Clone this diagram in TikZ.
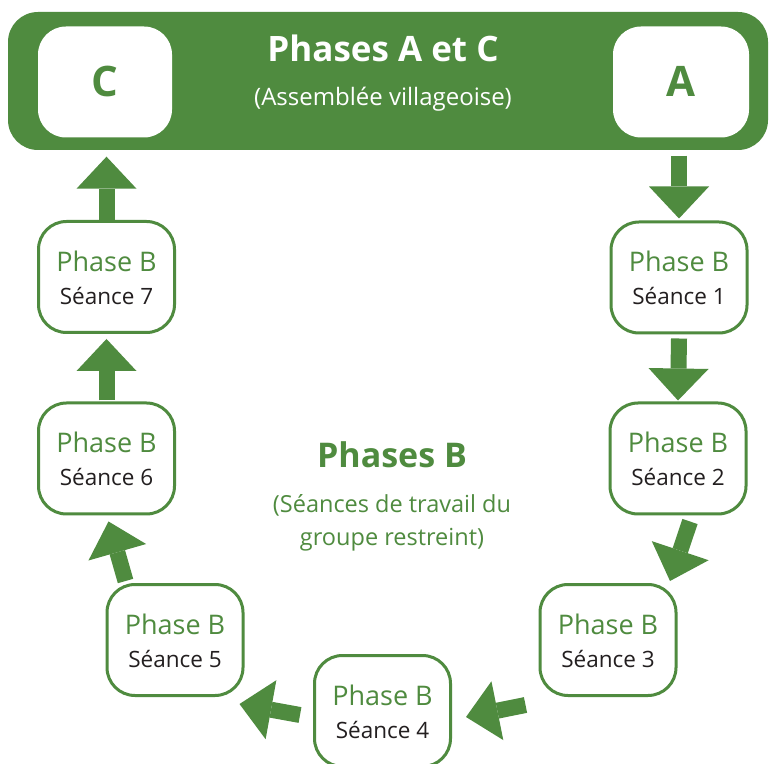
\documentclass[tikz,border=0pt]{standalone}
\usepackage{fontspec}
\setmainfont{Open Sans}
\usetikzlibrary{arrows.meta,calc}
\definecolor{grn}{RGB}{79,139,63}
\definecolor{ink}{RGB}{35,31,32}
\tikzset{
  seancebox/.style={draw=grn, line width=3pt, fill=white, rounded corners=28pt,
    minimum width=136pt, minimum height=111pt, inner sep=0pt},
  topbox/.style={fill=white, rounded corners=28pt, minimum height=111pt, inner sep=0pt},
  hdtext/.style={anchor=base, text=grn, inner sep=0pt, font=\fontsize{27}{31}\selectfont},
  sdtext/.style={anchor=base, text=ink, inner sep=0pt, font=\fontsize{22.5}{26}\selectfont},
  bigarrow/.style={draw=grn, line width=16pt, -{Triangle[length=32pt,width=60pt,line width=0pt]}},
}
\newcommand\mkseance[4]{%
  \node[seancebox] (#1) at (#2,#3) {};
  \node[hdtext] (#1h) at ($(#1.center)+(0,5.5)$) {Phase B};
  \node[sdtext] (#1s) at ($(#1.center)+(0,-27.5)$) {Séance #4};
}
\begin{document}
\begin{tikzpicture}[x=1pt,y=1pt]
\useasboundingbox (0,0) rectangle (770,763);
\fill[white] (0,0) rectangle (770,763);
% top bar
\node[fill=grn, rounded corners=30pt, minimum width=760pt, minimum height=138pt, inner sep=0pt] (bar) at (388,682) {};
\node[topbox, minimum width=134pt] (C) at (105,681) {};
\node[topbox, minimum width=136pt] (A) at (681,681) {};
\node[anchor=base, text=grn, inner sep=0pt, font=\bfseries\fontsize{42}{46}\selectfont] (Ct) at (105,666) {C};
\node[anchor=base, text=grn, inner sep=0pt, font=\bfseries\fontsize{42}{46}\selectfont] (At) at (681,666) {A};
\node[anchor=base, text=white, inner sep=0pt, font=\bfseries\fontsize{35}{40}\selectfont] (title) at (383,701) {Phases A et C};
\node[anchor=base, text=white, inner sep=0pt, font=\fontsize{24}{28}\selectfont] (subtitle) at (383,657) {(Assemblée villageoise)};
% seances
\mkseance{s1}{679}{485.5}{1}
\mkseance{s2}{678}{304.5}{2}
\mkseance{s3}{608}{123}{3}
\mkseance{s4}{382.5}{52}{4}
\mkseance{s5}{175}{123}{5}
\mkseance{s6}{106.5}{304.5}{6}
\mkseance{s7}{106.5}{486}{7}
% central text
\node[anchor=base, text=grn, inner sep=0pt, font=\bfseries\fontsize{34}{40}\selectfont] (pb) at (392,295) {Phases B};
\node[anchor=base, text=grn, inner sep=0pt, font=\fontsize{23.5}{28}\selectfont] (pb1) at (392,250) {(Séances de travail du};
\node[anchor=base, text=grn, inner sep=0pt, font=\fontsize{23.5}{28}\selectfont] (pb2) at (392,218) {groupe restreint)};
% arrows
\draw[bigarrow] ($(A.south -| s1.north)+(0,-18)$) -- ($(s1.north)+(0,2)$);
\draw[bigarrow] ($(s1.south)+(0,-4)$) -- ($(s2.north)+(0,1)$);
\draw[bigarrow] ($(s2.south)+(12,-6)$) -- ($(s3.north)+(62,2)$);
\draw[bigarrow] ($(s3.south west)+(-13,-8)$) -- ($(s4.east)+(14,-6)$);
\draw[bigarrow] ($(s4.west)+(-13,-4)$) -- ($(s5.south east)+(-5,-7)$);
\draw[bigarrow] ($(s5.north west)+(20,2)$) -- ($(s6.south)+(2,-6)$);
\draw[bigarrow] ($(s6.north)+(0,1)$) -- ($(s7.south)+(0,-5)$);
\draw[bigarrow] ($(s7.north)+(0,0)$) -- ($(C.south -| s7.north)+(0,-19)$);
\end{tikzpicture}
\end{document}
